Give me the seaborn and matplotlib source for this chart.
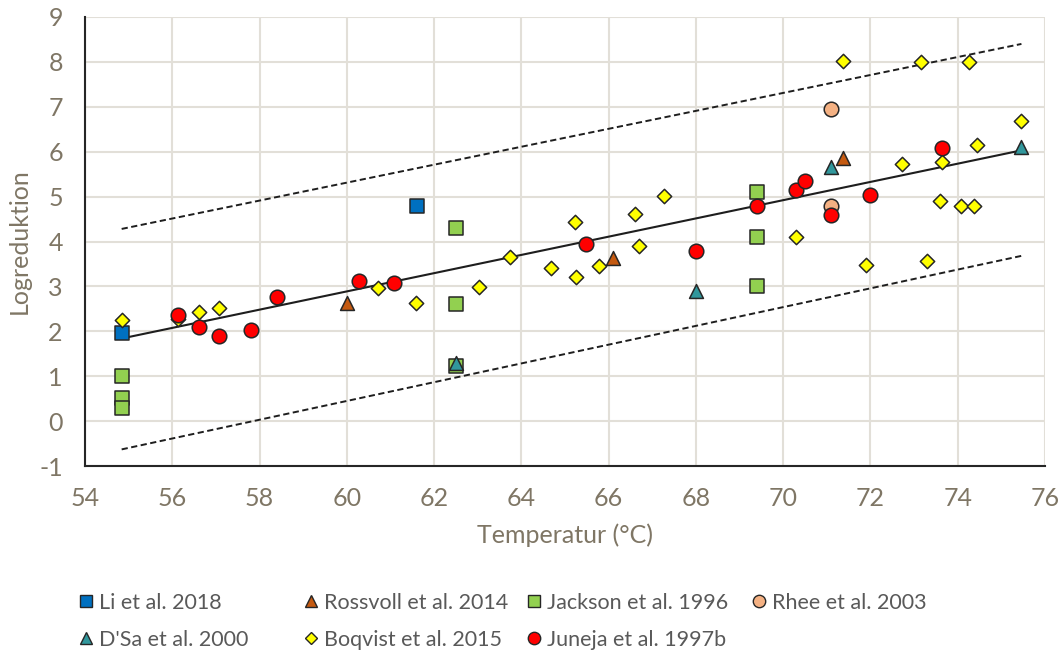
import numpy as np
import pandas as pd
import matplotlib
matplotlib.use("Agg")
import matplotlib.pyplot as plt
from matplotlib.lines import Line2D
import seaborn as sns

# ---------------- data ----------------
studies = ["Li et al. 2018", "Rossvoll et al. 2014", "Jackson et al. 1996",
           "Rhee et al. 2003", "D'Sa et al. 2000", "Boqvist et al. 2015",
           "Juneja et al. 1997b"]

li_T = [54.84, 61.6]
li_y = [1.96, 4.80]

rossvoll_T = [60.0, 66.09, 71.36]
rossvoll_y = [2.63, 3.63, 5.87]

jackson_T = [54.84, 54.84, 54.84, 62.5, 62.5, 62.5, 69.41, 69.41, 69.41]
jackson_y = [1.00, 0.52, 0.30, 4.30, 2.61, 1.22, 5.10, 4.11, 3.00]

rhee_T = [71.1, 71.1]
rhee_y = [6.94, 4.79]

dsa_T = [62.5, 68.0, 71.1, 75.46]
dsa_y = [1.30, 2.89, 5.67, 6.10]

boqvist_T = [54.84, 56.13, 56.62, 57.06, 60.71, 61.59, 63.02, 63.75, 64.69,
             65.22, 65.25, 65.79, 66.61, 66.70, 67.28, 70.30, 71.36, 71.89,
             72.72, 73.15, 73.30, 73.59, 73.65, 74.08, 74.25, 74.37, 74.44,
             75.46]
boqvist_y = [2.26, 2.28, 2.43, 2.53, 2.96, 2.63, 2.99, 3.65, 3.41,
             4.44, 3.20, 3.46, 4.62, 3.89, 5.02, 4.10, 8.02, 3.47,
             5.72, 7.99, 3.56, 4.91, 5.76, 4.78, 7.99, 4.78, 6.15,
             6.68]

juneja_T = [56.13, 56.62, 57.06, 57.80, 58.40, 60.29, 61.09, 65.49, 68.0,
            69.41, 70.30, 70.51, 71.1, 72.0, 73.65]
juneja_y = [2.37, 2.09, 1.90, 2.04, 2.76, 3.11, 3.07, 3.95, 3.78,
            4.78, 5.15, 5.35, 4.59, 5.04, 6.08]

# regression line and prediction band (end points)
fit_T = [54.84, 75.46]
fit_mean = [1.84, 6.03]
fit_upper = [4.28, 8.40]
fit_lower = [-0.63, 3.68]

x_ticks = list(range(54, 77, 2))
y_ticks = list(range(-1, 10))

# ---------------- styling ----------------
colors = {
    "Li et al. 2018": "#0070C0",
    "Rossvoll et al. 2014": "#C55A11",
    "Jackson et al. 1996": "#92D050",
    "Rhee et al. 2003": "#F4B183",
    "D'Sa et al. 2000": "#31979C",
    "Boqvist et al. 2015": "#FFFF00",
    "Juneja et al. 1997b": "#FF0000",
}
markers = {
    "Li et al. 2018": "s",
    "Rossvoll et al. 2014": "^",
    "Jackson et al. 1996": "s",
    "Rhee et al. 2003": "o",
    "D'Sa et al. 2000": "^",
    "Boqvist et al. 2015": "D",
    "Juneja et al. 1997b": "o",
}
msize = {"s": 10.0, "^": 10.0, "o": 10.5, "D": 7.3}

series = {
    "Li et al. 2018": (li_T, li_y),
    "Rossvoll et al. 2014": (rossvoll_T, rossvoll_y),
    "Jackson et al. 1996": (jackson_T, jackson_y),
    "Rhee et al. 2003": (rhee_T, rhee_y),
    "D'Sa et al. 2000": (dsa_T, dsa_y),
    "Boqvist et al. 2015": (boqvist_T, boqvist_y),
    "Juneja et al. 1997b": (juneja_T, juneja_y),
}

frames = []
for name in studies:
    T, y = series[name]
    frames.append(pd.DataFrame({"T": T, "y": y, "study": name}))
df = pd.concat(frames, ignore_index=True)

sns.set_theme(style="white")
plt.rcParams["font.family"] = ["Lato", "DejaVu Sans"]
plt.rcParams["axes.unicode_minus"] = False

text_col = "#7F7665"
edge_col = "#262626"
grid_col = "#E2DFD8"

fig = plt.figure(figsize=(10.6, 6.55), dpi=100)
ax = fig.add_axes([85 / 1060, 1 - 466 / 655, 960 / 1060, (466 - 17) / 655])

# lines
ax.plot(fit_T, fit_mean, color="#1E1E1E", lw=1.5, zorder=2)
ax.plot(fit_T, fit_upper, color="#1E1E1E", lw=1.4, ls=(0, (3.2, 1.8)), zorder=2)
ax.plot(fit_T, fit_lower, color="#1E1E1E", lw=1.4, ls=(0, (3.2, 1.8)), zorder=2)

for i, name in enumerate(studies):
    sub = df[df["study"] == name]
    m = markers[name]
    sns.scatterplot(data=sub, x="T", y="y", ax=ax, marker=m,
                    s=msize[m] ** 2, color=colors[name],
                    edgecolor=edge_col, linewidth=1.1, zorder=3 + i,
                    legend=False)

ax.set_xlim(54, 76)
ax.set_ylim(-1, 9)
ax.set_xticks(x_ticks)
ax.set_yticks(y_ticks)
ax.grid(True, color=grid_col, lw=1.5, zorder=0)
ax.set_axisbelow(True)
for s in ["top", "right"]:
    ax.spines[s].set_visible(False)
for s in ["left", "bottom"]:
    ax.spines[s].set_color(edge_col)
    ax.spines[s].set_linewidth(1.5)
    ax.spines[s].set_zorder(10)
ax.tick_params(axis="both", length=0, labelsize=18, colors=text_col)
ax.tick_params(axis="x", pad=15)
ax.tick_params(axis="y", pad=16)
ax.set_xlabel("Temperatur (°C)", fontsize=18, color=text_col, labelpad=10)
ax.set_ylabel("Logreduktion", fontsize=18, color=text_col, labelpad=6)

# legend: 4 equally spaced columns, 2 rows (row-wise order)
col_x = [80, 305, 528, 753]
row_y = [603, 640]
for k, name in enumerate(studies):
    r, c = divmod(k, 4)
    m = markers[name]
    h = Line2D([], [], ls="none", marker=m, markersize=msize[m] * 0.85,
               markerfacecolor=colors[name], markeredgecolor=edge_col,
               markeredgewidth=1.0)
    fig.legend(handles=[h], labels=[name], loc="center left",
               bbox_to_anchor=(col_x[c] / 1060, 1 - row_y[r] / 655),
               frameon=False, fontsize=15.5, handlelength=0.6,
               handletextpad=0.3, borderpad=0, borderaxespad=0,
               labelcolor="#595959")

fig.savefig("out.png", dpi=100)
